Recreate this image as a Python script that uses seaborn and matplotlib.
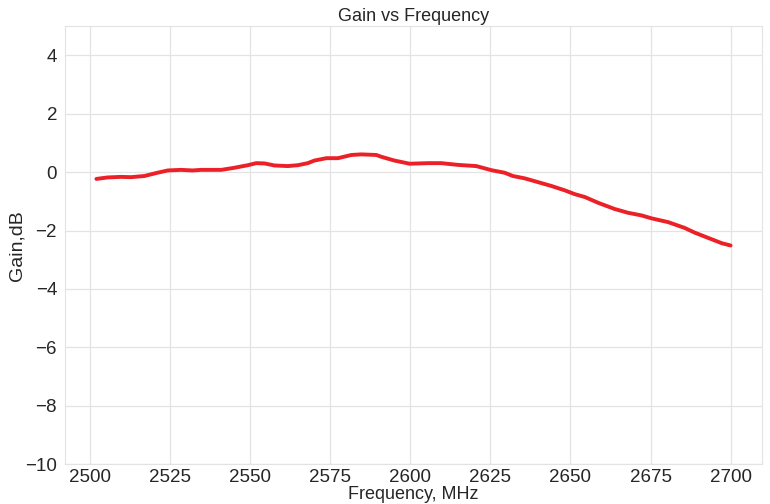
import numpy as np
import pandas as pd
import matplotlib
matplotlib.use("Agg")
import matplotlib.pyplot as plt
import seaborn as sns

freq = [2502, 2505.5, 2509.7, 2512.8, 2517, 2521, 2524.3, 2528.4, 2532, 2534.7,
        2541, 2545, 2549.3, 2551.9, 2554.5, 2557.6, 2561.8, 2564.9, 2568, 2570.1,
        2573.8, 2577.4, 2581.6, 2584.7, 2589.4, 2590.9, 2595, 2599.8, 2605.5, 2609.7,
        2614.9, 2620.6, 2625.3, 2629.5, 2632, 2635.7, 2638.9, 2644, 2648.2, 2651.3,
        2654.5, 2658.7, 2663.8, 2668, 2672.2, 2675.3, 2680.5, 2685.7, 2688.8, 2693,
        2697.2, 2700]
gain = [-0.23, -0.18, -0.16, -0.17, -0.13, -0.02, 0.06, 0.08, 0.06, 0.08,
        0.08, 0.15, 0.24, 0.31, 0.30, 0.23, 0.21, 0.24, 0.31, 0.40,
        0.48, 0.48, 0.59, 0.61, 0.59, 0.53, 0.40, 0.29, 0.31, 0.31,
        0.25, 0.21, 0.07, -0.02, -0.13, -0.21, -0.31, -0.47, -0.62, -0.75,
        -0.85, -1.05, -1.26, -1.39, -1.48, -1.58, -1.71, -1.91, -2.07, -2.25,
        -2.43, -2.51]

df = pd.DataFrame({"Frequency": freq, "Gain": gain})

sns.set_style("whitegrid", {"grid.color": "#e3e3e3", "axes.edgecolor": "#e3e3e3"})
plt.rcParams["font.family"] = ["Liberation Sans", "DejaVu Sans"]

fig = plt.figure(figsize=(7.7, 5.04), dpi=100)
ax = fig.add_axes([0.084, 0.079, 0.906, 0.869])

sns.lineplot(data=df, x="Frequency", y="Gain", color="#ec2027", linewidth=2.8, ax=ax)

ax.set_ylim(-10, 5)
ax.set_yticks(np.arange(-10, 5, 2))
ax.set_xticks(np.arange(2500, 2701, 25))
ax.grid(linewidth=0.9)
ax.tick_params(axis="x", labelsize=13.5, pad=0)
ax.tick_params(axis="y", labelsize=13.5, pad=2)
ax.set_title("Gain vs Frequency", fontsize=13, pad=4)
ax.set_xlabel("Frequency, MHz", fontsize=13, labelpad=0)
ax.set_ylabel("Gain,dB", fontsize=14, labelpad=0)

fig.savefig("out.png", dpi=100)
